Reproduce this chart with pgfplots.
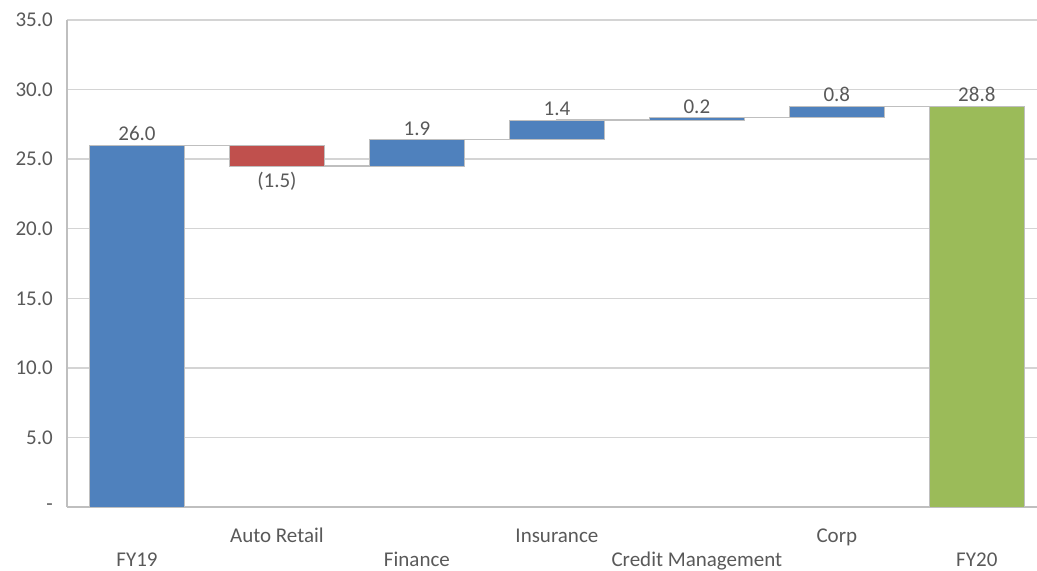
\documentclass[border=0pt]{standalone}
\usepackage{pgfplots}
\pgfplotsset{compat=1.18}
\usepackage{fontspec}
\setmainfont{Carlito}
\definecolor{txt}{HTML}{595959}
\definecolor{cblue}{HTML}{4F81BD}
\definecolor{cred}{HTML}{C0504D}
\definecolor{cgreen}{HTML}{9BBB59}
\definecolor{gridc}{HTML}{D4D4D4}
\definecolor{axc}{HTML}{BFBFBF}
\begin{document}
\begin{tikzpicture}
\begin{axis}[
  scale only axis, width=970pt, height=487pt,
  xmin=-0.5, xmax=6.43, ymin=0, ymax=35,
  enlargelimits=false,
  axis x line*=bottom, axis y line*=left,
  axis line style={draw=axc, line width=1.3pt, -},
  ymajorgrids, major grid style={draw=gridc, line width=1.5pt},
  major tick length=0pt,
  /pgf/number format/assume math mode=true,
  every tick label/.append style={font=\fontsize{21}{25}\selectfont, text=txt},
  ytick={0,5,...,35}, yticklabels={-,5.0,10.0,15.0,20.0,25.0,30.0,35.0},
  yticklabel style={anchor=east, inner sep=0pt, xshift=-14pt},
  xtick={1,3,5}, xticklabels={Auto Retail, Insurance, Corp},
  xticklabel style={anchor=base, inner sep=0pt, yshift=-36pt},
  extra x ticks={0,2,4,6},
  extra x tick labels={FY19,Finance,Credit Management,FY20},
  extra x tick style={grid=none, xticklabel style={yshift=-24pt}},
  clip=false,
  bars/.style={ybar, stack plots=y, bar width=0.68, bar shift=0pt, draw=black!25, line width=0.5pt},
]
\addplot[const plot, draw=axc, line width=1.4pt, mark=none]
  coordinates {(0,26.0) (1,24.5) (2,26.4) (3,27.8) (4,28.0) (5,28.8) (6,28.8)};
\addplot[bars, draw=none, fill=none] coordinates {(0,0) (1,24.5) (2,24.5) (3,26.4) (4,27.8) (5,28.0) (6,0)};
\addplot[bars, fill=cblue] coordinates {(0,26.0) (1,0) (2,1.9) (3,1.4) (4,0.2) (5,0.8) (6,0)};
\addplot[bars, fill=cred] coordinates {(0,0) (1,1.5) (2,0) (3,0) (4,0) (5,0) (6,0)};
\addplot[bars, fill=cgreen] coordinates {(0,0) (1,0) (2,0) (3,0) (4,0) (5,0) (6,28.8)};
\begin{scope}[every node/.style={font=\fontsize{21}{25}\selectfont, text=txt}]
\node[anchor=south, inner sep=4pt] at (axis cs:0,26.0) {26.0};
\node[anchor=north, inner sep=6pt] at (axis cs:1,24.5) {(1.5)};
\node[anchor=south, inner sep=4pt] at (axis cs:2,26.4) {1.9};
\node[anchor=south, inner sep=4pt] at (axis cs:3,27.8) {1.4};
\node[anchor=south, inner sep=4pt] at (axis cs:4,28.0) {0.2};
\node[anchor=south, inner sep=4pt] at (axis cs:5,28.8) {0.8};
\node[anchor=south, inner sep=4pt] at (axis cs:6,28.8) {28.8};
\end{scope}
\coordinate (bl) at (rel axis cs:0,0);
\coordinate (tr) at (rel axis cs:1,1);
\end{axis}
\pgfresetboundingbox
\useasboundingbox ([shift={(-67pt,-64pt)}]bl) rectangle ([shift={(0pt,20pt)}]tr);
\end{tikzpicture}
\end{document}
